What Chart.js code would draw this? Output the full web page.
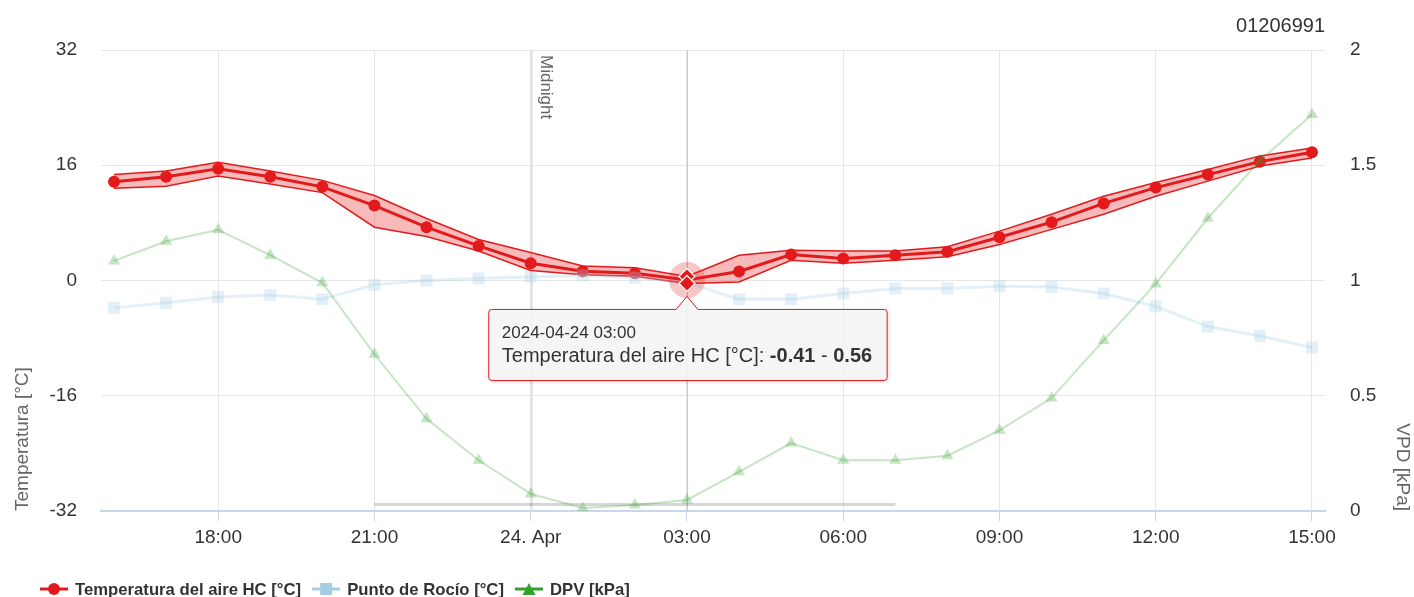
<!DOCTYPE html>
<html><head><meta charset="utf-8">
<script src="https://cdn.jsdelivr.net/npm/chart.js@4.4.1/dist/chart.umd.min.js"></script>
<style>html,body{margin:0;padding:0;background:#fff;}canvas{display:block;}</style>
</head><body>
<canvas id="c" width="1414" height="597"></canvas>
<script>
// ---------- DATA ----------
const times = [
  '2024-04-23 16:00','2024-04-23 17:00','2024-04-23 18:00','2024-04-23 19:00','2024-04-23 20:00','2024-04-23 21:00',
  '2024-04-23 22:00','2024-04-23 23:00','2024-04-24 00:00','2024-04-24 01:00','2024-04-24 02:00','2024-04-24 03:00',
  '2024-04-24 04:00','2024-04-24 05:00','2024-04-24 06:00','2024-04-24 07:00','2024-04-24 08:00','2024-04-24 09:00',
  '2024-04-24 10:00','2024-04-24 11:00','2024-04-24 12:00','2024-04-24 13:00','2024-04-24 14:00','2024-04-24 15:00'
];
const tempAvg  = [13.7, 14.4, 15.5, 14.4, 13.0, 10.4, 7.4, 4.8, 2.4, 1.3, 1.0, 0.07, 1.25, 3.6, 3.05, 3.5, 4.0, 6.0, 8.1, 10.7, 12.9, 14.7, 16.5, 17.8];
const tempLow  = [12.8, 13.1, 14.5, 13.4, 12.2, 7.4, 6.1, 4.1, 1.4, 0.8, 0.6, -0.41, -0.2, 2.8, 2.4, 2.8, 3.3, 5.0, 7.1, 9.2, 11.7, 13.8, 15.9, 17.0];
const tempHigh = [14.7, 15.2, 16.4, 15.2, 13.9, 11.8, 8.6, 5.7, 3.9, 2.0, 1.76, 0.56, 3.5, 4.2, 4.1, 4.1, 4.7, 6.85, 9.2, 11.7, 13.6, 15.4, 17.3, 18.4];
const dewPoint = [-3.8, -3.1, -2.3, -2.0, -2.6, -0.6, 0.0, 0.3, 0.5, 0.7, 0.4, -0.3, -2.6, -2.6, -1.8, -1.1, -1.1, -0.8, -0.9, -1.8, -3.6, -6.4, -7.7, -9.3];
const dpv      = [1.085, 1.17, 1.22, 1.11, 0.99, 0.68, 0.40, 0.22, 0.074, 0.013, 0.026, 0.048, 0.17, 0.295, 0.22, 0.22, 0.24, 0.35, 0.49, 0.74, 0.985, 1.27, 1.52, 1.72];

const seriesNames = ['Temperatura del aire HC [°C]', 'Punto de Rocío [°C]', 'DPV [kPa]'];
const xTickHours  = [18, 21, 24, 27, 30, 33, 36, 39];
const xTickLabels = ['18:00', '21:00', '24. Apr', '03:00', '06:00', '09:00', '12:00', '15:00'];
const yLeftRange  = [-32, 32, 16];
const yRightRange = [0, 2, 0.5];
const axisTitles  = ['Temperatura [°C]', 'VPD [kPa]'];
const midnightLine = [24, 'Midnight'];
const nightBar = [21, 31, -31.1];
const chartIdText = '01206991';
const hoverIndex = 11;

// hours relative to 2024-04-23 00:00
const baseMs = Date.UTC(2024, 3, 23, 0, 0);
function toHours(s) {
  const [d, t] = s.split(' ');
  const [Y, M, D] = d.split('-').map(Number);
  const [h, m] = t.split(':').map(Number);
  return (Date.UTC(Y, M - 1, D, h, m) - baseMs) / 3600000;
}
const hours = times.map(toHours);
const xy = arr => arr.map((v, i) => ({x: hours[i], y: v}));

const RED = 'rgb(227,26,28)';
const FONT = '"Liberation Sans", Arial, sans-serif';

// ---------- PLUGIN ----------
const deco = {
  id: 'deco',
  beforeDatasetsDraw(chart) {
    const {ctx, chartArea: a, scales: {x, y}} = chart;
    ctx.save();
    const mx = Math.round(x.getPixelForValue(midnightLine[0])) + 0.5;
    ctx.strokeStyle = '#e2e2e2'; ctx.lineWidth = 2.5;
    ctx.beginPath(); ctx.moveTo(mx, a.top); ctx.lineTo(mx, a.bottom); ctx.stroke();
    ctx.translate(mx + 14, a.top + 5);
    ctx.rotate(Math.PI / 2);
    ctx.fillStyle = '#666'; ctx.font = '17px ' + FONT; ctx.textBaseline = 'middle'; ctx.textAlign = 'left';
    ctx.fillText(midnightLine[1], 0, 0);
    ctx.restore();
    ctx.save();
    const cx = Math.round(x.getPixelForValue(hours[hoverIndex])) + 0.5;
    ctx.strokeStyle = '#c8c8c8'; ctx.lineWidth = 1;
    ctx.beginPath(); ctx.moveTo(cx, a.top); ctx.lineTo(cx, a.bottom); ctx.stroke();
    const ny = y.getPixelForValue(nightBar[2]);
    ctx.strokeStyle = 'rgba(0,0,0,0.16)'; ctx.lineWidth = 3;
    ctx.beginPath(); ctx.moveTo(x.getPixelForValue(nightBar[0]), ny); ctx.lineTo(x.getPixelForValue(nightBar[1]), ny); ctx.stroke();
    ctx.restore();
  },
  afterDatasetsDraw(chart) {
    const {ctx, scales: {x, y}} = chart;
    ctx.save();
    const px = x.getPixelForValue(hours[hoverIndex]);
    const pa = y.getPixelForValue(tempAvg[hoverIndex]);
    ctx.fillStyle = 'rgba(227,26,28,0.25)';
    ctx.beginPath(); ctx.arc(px, pa, 18, 0, Math.PI * 2); ctx.fill();
    const diamond = (yy) => {
      const r = 8;
      ctx.beginPath();
      ctx.moveTo(px, yy - r); ctx.lineTo(px + r, yy); ctx.lineTo(px, yy + r); ctx.lineTo(px - r, yy); ctx.closePath();
      ctx.fillStyle = RED; ctx.fill();
      ctx.strokeStyle = '#fff'; ctx.lineWidth = 1.2; ctx.stroke();
    };
    diamond(y.getPixelForValue(tempHigh[hoverIndex]));
    diamond(y.getPixelForValue(tempLow[hoverIndex]));
    ctx.restore();
  },
  afterDraw(chart) {
    const {ctx, chartArea: a, scales: {x, y}} = chart;
    ctx.save();
    ctx.fillStyle = '#333'; ctx.font = '20px ' + FONT; ctx.textAlign = 'right'; ctx.textBaseline = 'alphabetic';
    ctx.fillText(chartIdText, a.right, 32);

    // tooltip
    const px = x.getPixelForValue(hours[hoverIndex]);
    const pLow = y.getPixelForValue(tempLow[hoverIndex]);
    const head = times[hoverIndex];
    const namePart = seriesNames[0] + ': ';
    const lowS = tempLow[hoverIndex].toFixed(2), highS = tempHigh[hoverIndex].toFixed(2);
    const f1 = '17px ' + FONT, f2 = '20px ' + FONT, f2b = 'bold 20px ' + FONT;
    ctx.font = f2; const wName = ctx.measureText(namePart).width; const wSep = ctx.measureText(' - ').width;
    ctx.font = f2b; const wLow = ctx.measureText(lowS).width; const wHigh = ctx.measureText(highS).width;
    const w2 = wName + wLow + wSep + wHigh;
    const bw = w2 + 28, bh = 71;
    const apexY = pLow + 13, top = apexY + 13;
    const left = px + 1 - bw / 2, right = left + bw, bottom = top + bh, r = 3;
    ctx.beginPath();
    ctx.moveTo(left + r, top);
    ctx.lineTo(px - 11, top); ctx.lineTo(px, apexY); ctx.lineTo(px + 11, top);
    ctx.lineTo(right - r, top); ctx.quadraticCurveTo(right, top, right, top + r);
    ctx.lineTo(right, bottom - r); ctx.quadraticCurveTo(right, bottom, right - r, bottom);
    ctx.lineTo(left + r, bottom); ctx.quadraticCurveTo(left, bottom, left, bottom - r);
    ctx.lineTo(left, top + r); ctx.quadraticCurveTo(left, top, left + r, top);
    ctx.closePath();
    ctx.shadowColor = 'rgba(0,0,0,0.18)'; ctx.shadowBlur = 4; ctx.shadowOffsetX = 1; ctx.shadowOffsetY = 1;
    ctx.fillStyle = 'rgba(247,247,247,0.92)'; ctx.fill();
    ctx.shadowColor = 'transparent';
    ctx.strokeStyle = RED; ctx.lineWidth = 1; ctx.stroke();
    ctx.fillStyle = '#333'; ctx.textAlign = 'left';
    ctx.font = f1; ctx.fillText(head, left + 13, top + 29);
    let tx = left + 13; const by = top + 53;
    ctx.font = f2; ctx.fillText(namePart, tx, by); tx += wName;
    ctx.font = f2b; ctx.fillText(lowS, tx, by); tx += wLow;
    ctx.font = f2; ctx.fillText(' - ', tx, by); tx += wSep;
    ctx.font = f2b; ctx.fillText(highS, tx, by);

    // legend
    const ly = 589;
    let lx = 40;
    ctx.font = 'bold 16.7px ' + FONT; ctx.textBaseline = 'alphabetic';
    const syms = [
      {c: RED, s: 'circle'}, {c: 'rgb(166,206,227)', s: 'rect'}, {c: 'rgb(51,160,44)', s: 'triangle'}
    ];
    seriesNames.forEach((name, i) => {
      const sy = syms[i];
      ctx.strokeStyle = sy.c; ctx.fillStyle = sy.c; ctx.lineWidth = 3;
      ctx.beginPath(); ctx.moveTo(lx, ly); ctx.lineTo(lx + 28, ly); ctx.stroke();
      const cx = lx + 14;
      ctx.beginPath();
      if (sy.s === 'circle') ctx.arc(cx, ly, 6, 0, Math.PI * 2);
      else if (sy.s === 'rect') ctx.rect(cx - 6, ly - 6, 12, 12);
      else { ctx.moveTo(cx, ly - 6); ctx.lineTo(cx + 6.5, ly + 6); ctx.lineTo(cx - 6.5, ly + 6); ctx.closePath(); }
      ctx.fill();
      ctx.fillStyle = '#333';
      ctx.fillText(name, lx + 35, ly + 6);
      lx += 35 + ctx.measureText(name).width + 11;
    });
    ctx.restore();
  }
};

// ---------- CHART ----------
new Chart(document.getElementById('c'), {
  type: 'line',
  data: {
    datasets: [
      { label: seriesNames[0], data: xy(tempAvg), yAxisID: 'y', order: 9,
        borderColor: RED, borderWidth: 3, pointRadius: 6, pointBackgroundColor: RED, pointBorderWidth: 0, fill: false },
      { label: 'high', data: xy(tempHigh), yAxisID: 'y', order: 10, fill: '+1',
        backgroundColor: 'rgba(227,26,28,0.3)', borderColor: RED, borderWidth: 1.5, pointRadius: 0 },
      { label: 'low', data: xy(tempLow), yAxisID: 'y', order: 10, fill: false,
        borderColor: RED, borderWidth: 1.5, pointRadius: 0 },
      { label: seriesNames[1], data: xy(dewPoint), yAxisID: 'y', order: 8,
        borderColor: 'rgba(166,206,227,0.3)', borderWidth: 3, pointStyle: 'rect', pointRadius: 8.5,
        pointBackgroundColor: 'rgba(166,206,227,0.3)', pointBorderWidth: 0, fill: false },
      { label: seriesNames[2], data: xy(dpv), yAxisID: 'y1', order: 7,
        borderColor: 'rgba(51,160,44,0.28)', borderWidth: 2, pointStyle: 'triangle', pointRadius: 7,
        pointBackgroundColor: 'rgba(51,160,44,0.28)', pointBorderWidth: 0, fill: false }
    ]
  },
  options: {
    responsive: false, animation: false, devicePixelRatio: 1, events: [],
    layout: { padding: { top: 50, left: 0, right: 0, bottom: 0 } },
    plugins: { legend: { display: false }, tooltip: { enabled: false } },
    scales: {
      x: {
        type: 'linear', min: 15.75, max: 39.25,
        afterBuildTicks: s => { s.ticks = xTickHours.map(v => ({value: v})); },
        afterFit: s => { s.height = 86; },
        ticks: { callback: (v, i) => xTickLabels[i], color: '#333', font: {family: FONT, size: 19}, padding: 5, maxRotation: 0, autoSkip: false },
        grid: { color: '#e6e6e6', lineWidth: 1, tickColor: '#ccd6eb', tickLength: 10, drawTicks: true },
        border: { display: true, color: '#ccd6eb', width: 2 }
      },
      y: {
        position: 'left', min: yLeftRange[0], max: yLeftRange[1],
        afterFit: s => { s.width = 101; },
        ticks: { stepSize: yLeftRange[2], color: '#333', font: {family: FONT, size: 19}, padding: 24 },
        grid: { color: '#e6e6e6', lineWidth: 1, drawTicks: false },
        border: { display: false },
        title: { display: true, text: axisTitles[0], align: 'start', color: '#666', font: {family: FONT, size: 19}, padding: {top: 11, bottom: 0} }
      },
      y1: {
        position: 'right', min: yRightRange[0], max: yRightRange[1],
        afterFit: s => { s.width = 89; },
        ticks: { stepSize: yRightRange[2], callback: v => String(v), color: '#333', font: {family: FONT, size: 19}, padding: 25 },
        grid: { display: false, drawTicks: false },
        border: { display: false },
        title: { display: true, text: axisTitles[1], align: 'start', color: '#666', font: {family: FONT, size: 19}, padding: {top: 0, bottom: 0} }
      }
    }
  },
  plugins: [deco]
});
</script>
</body></html>
